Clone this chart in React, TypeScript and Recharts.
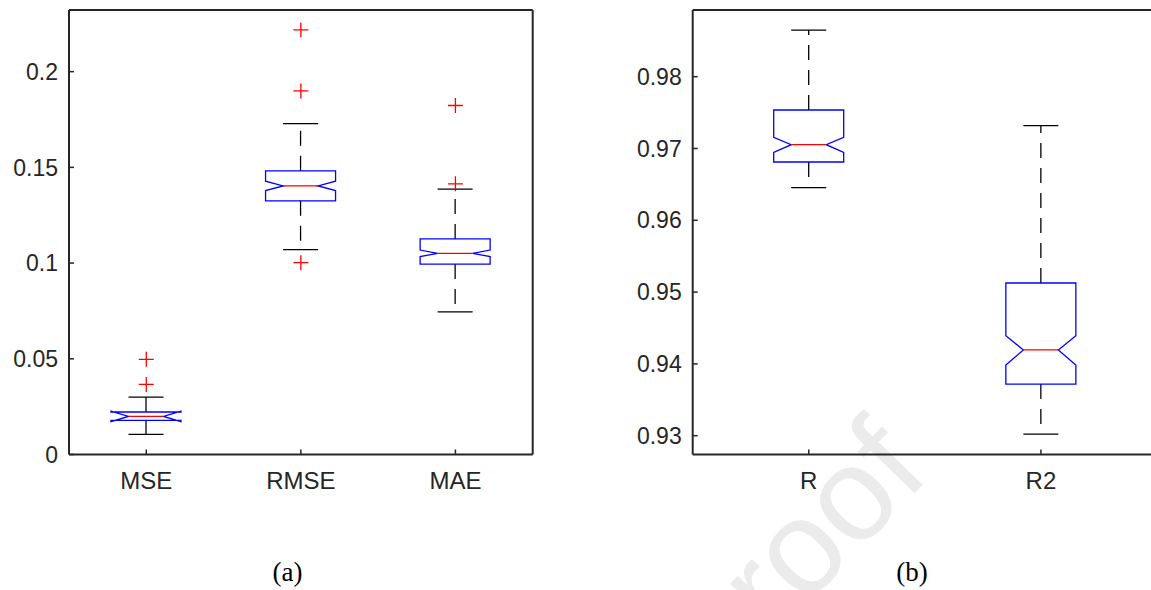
import { ComposedChart, Bar, Line, XAxis, YAxis } from "recharts"

// panel (a): error metrics
const metricsA = ["MSE", "RMSE", "MAE"]
const lowA = [0.0105, 0.107, 0.0745]
const q1A = [0.0178, 0.1325, 0.0995]
const notchLoA = [0.0172, 0.1379, 0.1034]
const medianA = [0.0199, 0.1403, 0.1051]
const notchHiA = [0.0226, 0.1428, 0.1068]
const q3A = [0.0222, 0.1482, 0.1126]
const highA = [0.03, 0.1728, 0.1386]
const outliersA = [[0.0366, 0.0497], [0.1002, 0.1899, 0.2218], [0.1414, 0.1823]]
const ticksA = [0, 0.05, 0.1, 0.15, 0.2]

// panel (b): correlation metrics
const metricsB = ["R", "R2"]
const lowB = [0.96454, 0.93022]
const q1B = [0.96812, 0.93719]
const notchLoB = [0.96947, 0.93985]
const medianB = [0.97053, 0.94194]
const notchHiB = [0.97156, 0.94393]
const q3B = [0.97536, 0.95127]
const highB = [0.9865, 0.97318]
const outliersB: number[][] = [[], []]
const ticksB = [0.93, 0.94, 0.95, 0.96, 0.97, 0.98]

const FONT = '"Liberation Sans", Arial, Helvetica, sans-serif'
const AX = "#262626"

const buildRows = (
  names: string[], low: number[], q1: number[], nlo: number[], med: number[],
  nhi: number[], q3: number[], high: number[], outs: number[][]
) =>
  names.map((name, i) => ({
    name,
    whisker: [low[i], high[i]],
    low: low[i],
    q1: q1[i],
    nlo: nlo[i],
    med: med[i],
    nhi: nhi[i],
    q3: q3[i],
    high: high[i],
    o1: outs[i][0] ?? null,
    o2: outs[i][1] ?? null,
    o3: outs[i][2] ?? null,
  }))

const rowsA = buildRows(metricsA, lowA, q1A, notchLoA, medianA, notchHiA, q3A, highA, outliersA)
const rowsB = buildRows(metricsB, lowB, q1B, notchLoB, medianB, notchHiB, q3B, highB, outliersB)

// notched box drawn inside the whisker-range bar
const BoxShape = (props: any) => {
  const { x, y, width, height } = props
  const p = props.payload ?? props
  const lo = p.low
  const hi = p.high
  const py = (v: number) => y + (height * (hi - v)) / (hi - lo)
  const cx = x + width / 2
  const l = x
  const r = x + width
  const d = width / 4
  const yLow = py(lo)
  const yHigh = py(hi)
  const yQ1 = py(p.q1)
  const yQ3 = py(p.q3)
  const yMed = py(p.med)
  const yNlo = py(p.nlo)
  const yNhi = py(p.nhi)
  const pts = [
    [l, yQ1], [l, yNlo], [l + d, yMed], [l, yNhi], [l, yQ3],
    [r, yQ3], [r, yNhi], [r - d, yMed], [r, yNlo], [r, yQ1],
  ]
  return (
    <g>
      <line x1={cx} x2={cx} y1={yQ3} y2={yHigh} stroke="#000" strokeWidth={1.3} strokeDasharray="15 10" />
      <line x1={cx} x2={cx} y1={yQ1} y2={yLow} stroke="#000" strokeWidth={1.3} strokeDasharray="15 10" />
      <line x1={cx - d} x2={cx + d} y1={yHigh} y2={yHigh} stroke="#000" strokeWidth={1.3} />
      <line x1={cx - d} x2={cx + d} y1={yLow} y2={yLow} stroke="#000" strokeWidth={1.3} />
      <polygon points={pts.map((q) => q.join(",")).join(" ")} fill="none" stroke="#0000ff" strokeWidth={1.3} />
      <line x1={l + d} x2={r - d} y1={yMed} y2={yMed} stroke="#ff0000" strokeWidth={1.3} />
    </g>
  )
}

const Cross = (props: any) => {
  const { cx, cy, value, index } = props
  if (value == null || cy == null || isNaN(cy)) return <g key={`n-${index}`} />
  return (
    <g key={`c-${index}-${cy}`}>
      <line x1={cx - 7.5} x2={cx + 7.5} y1={cy} y2={cy} stroke="#ff0000" strokeWidth={1.3} />
      <line x1={cx} x2={cx} y1={cy - 7.5} y2={cy + 7.5} stroke="#ff0000" strokeWidth={1.3} />
    </g>
  )
}

const BoxPanel = ({ rows, domain, ticks, fmt, width, margin }: any) => (
  <ComposedChart width={width} height={520} data={rows} margin={margin}>
    <XAxis
      dataKey="name"
      type="category"
      height={40}
      tickSize={-5}
      tickMargin={22}
      axisLine={{ stroke: AX, strokeWidth: 2 }}
      tickLine={{ stroke: AX, strokeWidth: 1.5 }}
      tick={{ fill: AX, fontSize: 24, fontFamily: FONT }}
    />
    <XAxis
      xAxisId="top"
      dataKey="name"
      type="category"
      orientation="top"
      height={1}
      tickSize={-5}
      tick={false}
      axisLine={{ stroke: AX, strokeWidth: 2 }}
      tickLine={{ stroke: AX, strokeWidth: 1.5 }}
    />
    <YAxis
      type="number"
      domain={domain}
      ticks={ticks}
      interval={0}
      allowDataOverflow
      width={60}
      tickSize={-5}
      tickMargin={16}
      tickFormatter={fmt}
      axisLine={{ stroke: AX, strokeWidth: 2 }}
      tickLine={{ stroke: AX, strokeWidth: 1.5 }}
      tick={{ fill: AX, fontSize: 23, fontFamily: FONT }}
    />
    <YAxis
      yAxisId="right"
      orientation="right"
      type="number"
      domain={domain}
      ticks={ticks}
      interval={0}
      allowDataOverflow
      width={1}
      tickSize={-5}
      tick={false}
      axisLine={{ stroke: AX, strokeWidth: 2 }}
      tickLine={{ stroke: AX, strokeWidth: 1.5 }}
    />
    <Bar dataKey="whisker" barSize={70} shape={<BoxShape />} isAnimationActive={false} />
    <Line dataKey="o1" stroke="none" dot={Cross} activeDot={false} isAnimationActive={false} />
    <Line dataKey="o2" stroke="none" dot={Cross} activeDot={false} isAnimationActive={false} />
    <Line
      dataKey="o3"
      xAxisId="top"
      yAxisId="right"
      stroke="none"
      dot={Cross}
      activeDot={false}
      isAnimationActive={false}
    />
  </ComposedChart>
)

const captionStyle: any = {
  position: "absolute",
  top: 557,
  width: 60,
  textAlign: "center",
  fontFamily: '"Liberation Serif", "Times New Roman", serif',
  fontSize: 27,
  lineHeight: "30px",
  color: "#000",
}

export default function App() {
  return (
    <div style={{ position: "absolute", left: 0, top: 0, width: 1151, height: 590, overflow: "hidden", background: "#fff" }}>
      <svg width={1151} height={590} style={{ position: "absolute", left: 0, top: 0 }}>
        <text
          x={932}
          y={475}
          textAnchor="end"
          fontFamily={FONT}
          fontSize={132}
          fill="#ebebeb"
          transform="rotate(-46 932 475)"
        >
          Journal Pre-proof
        </text>
      </svg>
      <div style={{ position: "absolute", left: 0, top: 0 }}>
        <BoxPanel
          rows={rowsA}
          domain={[0, 0.2322]}
          ticks={ticksA}
          fmt={(v: number) => String(v)}
          width={560}
          margin={{ top: 9, right: 26.3, bottom: 25.5, left: 9 }}
        />
      </div>
      <div style={{ position: "absolute", left: 600, top: 0 }}>
        <BoxPanel
          rows={rowsB}
          domain={[0.92738, 0.98929]}
          ticks={ticksB}
          fmt={(v: number) => v.toFixed(2)}
          width={570}
          margin={{ top: 9, right: 12, bottom: 25.5, left: 32.7 }}
        />
      </div>
      <div style={{ ...captionStyle, left: 257.5 }}>(a)</div>
      <div style={{ ...captionStyle, left: 882 }}>(b)</div>
    </div>
  )
}
